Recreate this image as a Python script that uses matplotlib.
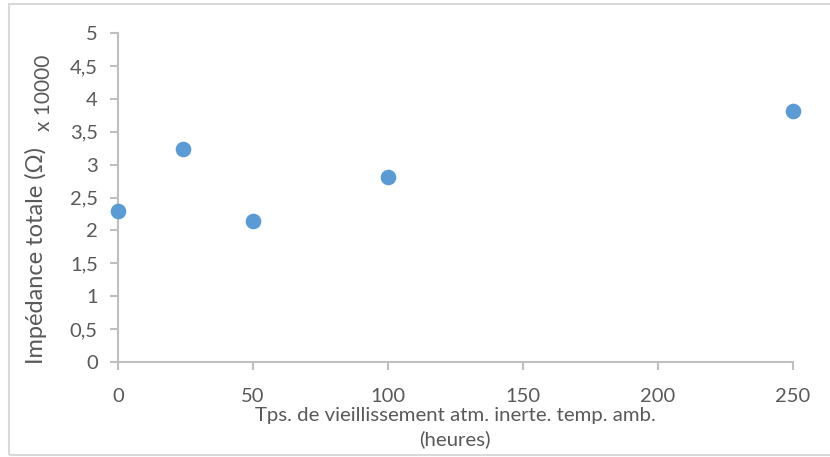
import matplotlib.pyplot as plt
from matplotlib.patches import Rectangle
from matplotlib.ticker import FuncFormatter

# temps de vieillissement (heures) et impedance totale (x 10000 ohm)
heures = [0, 24, 50, 100, 250]
impedance = [2.29, 3.23, 2.14, 2.81, 3.81]

x_ticks = [0, 50, 100, 150, 200, 250]
y_ticks = [0, 0.5, 1, 1.5, 2, 2.5, 3, 3.5, 4, 4.5, 5]

plt.rcParams['font.family'] = ['Lato', 'DejaVu Sans']

gris = "#595959"
axe = "#bfbfbf"

fig = plt.figure(figsize=(8.3, 4.57), dpi=100)
ax = fig.add_axes([118 / 830, 1 - 362 / 457, (793 - 118) / 830, (362 - 33) / 457])

ax.scatter(heures, impedance, s=105, color="#5b9bd5", zorder=3, clip_on=False)

ax.set_xlim(0, 250)
ax.set_ylim(0, 5)
ax.set_xticks(x_ticks)
ax.set_yticks(y_ticks)
ax.yaxis.set_major_formatter(FuncFormatter(lambda v, p: ("%g" % v).replace(".", ",")))

for s in ["top", "right"]:
    ax.spines[s].set_visible(False)
for s in ["left", "bottom"]:
    ax.spines[s].set_color(axe)
    ax.spines[s].set_linewidth(1.5)
ax.tick_params(axis="both", colors=axe, width=1.5, length=5.5, labelsize=14.5, labelcolor=gris)
ax.tick_params(axis="x", pad=13)
ax.tick_params(axis="y", pad=9)

fig.text(455 / 830, 1 - 415 / 457, "Tps. de vieillissement atm. inerte. temp. amb.",
         ha="center", va="center", fontsize=14.7, color=gris)
fig.text(455 / 830, 1 - 439 / 457, "(heures)", ha="center", va="center", fontsize=14.7, color=gris)
fig.text(36 / 830, 1 - 256 / 457, "Impédance totale (Ω)", rotation=90,
         ha="center", va="center", fontsize=17, color=gris)
fig.text(44 / 830, 1 - 93 / 457, "x 10000", rotation=90,
         ha="center", va="center", fontsize=15, color=gris)

# cadre du graphique
fig.patches.append(Rectangle((9 / 830, 2 / 457), 1, 451 / 457, transform=fig.transFigure,
                             fill=False, edgecolor="#d9d9d9", linewidth=1.5))

fig.savefig("out.png", dpi=100)
